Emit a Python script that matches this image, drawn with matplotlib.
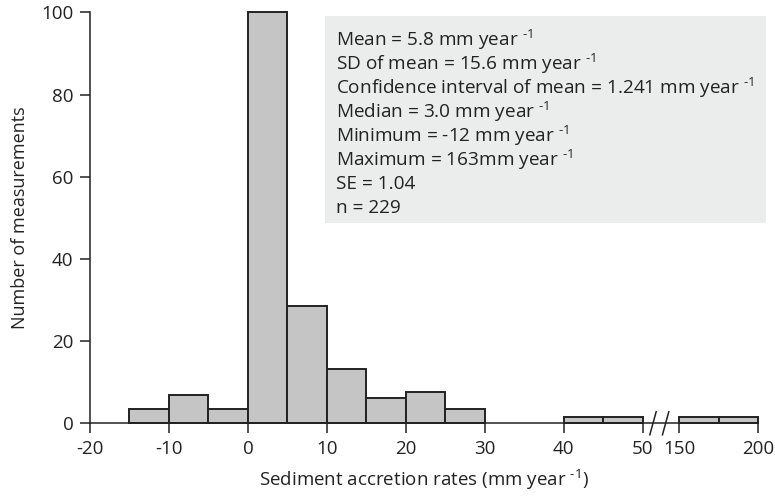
import matplotlib
matplotlib.use("Agg")
import matplotlib.pyplot as plt
from matplotlib.patches import Rectangle
import numpy as np

plt.rcParams['font.family'] = ['Open Sans', 'DejaVu Sans']
plt.rcParams['mathtext.fontset'] = 'custom'
plt.rcParams['mathtext.rm'] = 'Open Sans'
plt.rcParams['mathtext.it'] = 'Open Sans'
plt.rcParams['mathtext.default'] = 'regular'

# histogram bins (lower edge, width) and counts
bin_left = [-15, -10, -5, 0, 5, 10, 15, 20, 25, 40, 45, 150, 175]
bin_width = [5, 5, 5, 5, 5, 5, 5, 5, 5, 5, 5, 25, 25]
counts = [3.4, 6.8, 3.5, 100, 28.6, 13.3, 6.2, 7.7, 3.4, 1.5, 1.5, 1.5, 1.5]

xticks = [-20, -10, 0, 10, 20, 30, 40, 50, 150, 200]
yticks = [0, 20, 40, 60, 80, 100]

sup = r" $^{\text{-1}}$"
stats_lines = [
    "Mean = 5.8 mm year" + sup,
    "SD of mean = 15.6 mm year" + sup,
    "Confidence interval of mean = 1.241 mm year" + sup,
    "Median = 3.0 mm year" + sup,
    "Minimum = -12 mm year" + sup,
    "Maximum = 163mm year" + sup,
    "SE = 1.04",
    "n = 229",
]

# broken axis: 50..150 is cut out, 150..200 squeezed 5x
GAP = 4.6


def to_disp(x):
    x = np.asarray(x, dtype=float)
    return np.where(x <= 50, x, 50 + GAP + (x - 150) / 5.0)


W, H = 775, 497
fig = plt.figure(figsize=(W / 100, H / 100), dpi=100)
ax = fig.add_axes([90 / W, 1 - 423.3 / H, (758 - 90) / W, (423.3 - 12.3) / H])

left = to_disp(bin_left)
right = to_disp(np.array(bin_left) + np.array(bin_width))
ax.bar(left, counts, width=right - left, align='edge', color='#c4c5c4',
       edgecolor='#222222', linewidth=1.4, clip_on=False, zorder=2)

ax.set_xlim(-20, float(to_disp(200)))
ax.set_ylim(0, 100)
ax.set_xticks(to_disp(xticks))
ax.set_xticklabels([str(t) for t in xticks])
ax.set_yticks(yticks)

for s in ['top', 'right']:
    ax.spines[s].set_visible(False)
for s in ['left', 'bottom']:
    ax.spines[s].set_linewidth(1.1)
    ax.spines[s].set_color('#222222')
ax.tick_params(axis='both', length=7, width=1.1, color='#222222',
               labelsize=13.5, pad=5, labelcolor='#222222')

# break marks
for xc in [51.3, 52.9]:
    ax.plot([xc - 0.4, xc + 0.4], [-2.8, 2.8], color='#222222', lw=1.1,
            clip_on=False, zorder=3)

ax.set_xlabel("Sediment accretion rates (mm year" + sup + ")", fontsize=13.5,
              color='#222222', labelpad=7)
ax.set_ylabel("Number of measurements", fontsize=13, color='#222222',
              labelpad=9)

# stats box
fig.patches.append(Rectangle((325 / W, 1 - 223 / H), (766 - 325) / W,
                             (223 - 16) / H, transform=fig.transFigure,
                             facecolor='#ebecec', edgecolor='none', zorder=5))
for i, line in enumerate(stats_lines):
    yb = 46 + i * 23.9
    fig.text(336 / W, 1 - yb / H, line, fontsize=13.7, color='#222222',
             va='baseline', ha='left', zorder=6)

fig.savefig("out.png", dpi=100)
